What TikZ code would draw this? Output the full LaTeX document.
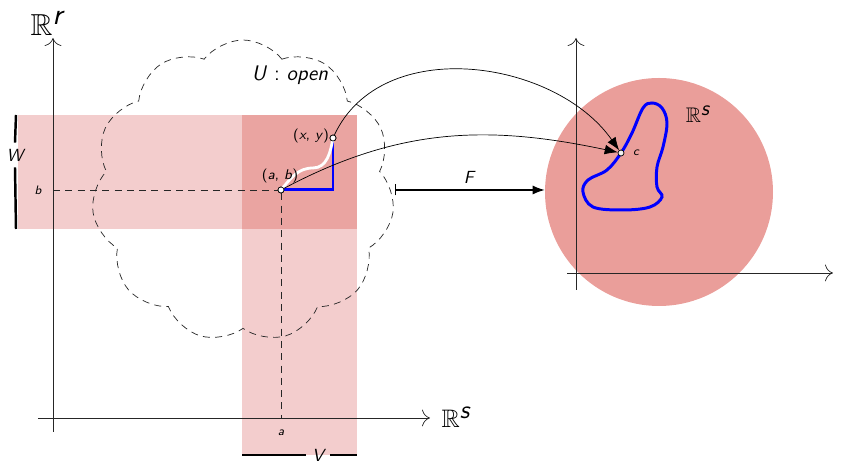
\documentclass[tikz,border=0pt]{standalone}
\usepackage{amssymb}
\usetikzlibrary{arrows.meta,shapes.symbols}
\definecolor{BandPink}{RGB}{243,205,205}
\definecolor{MeetPink}{RGB}{234,164,161}
\definecolor{DiskPink}{RGB}{234,158,154}

\begin{document}
\sffamily
\begin{tikzpicture}[
    axis/.style={-{To[length=1.6mm]}, draw=black!85},
    guide/.style={dash pattern=on 4pt off 3pt, draw=black!85},
    pt/.style={circle, draw, fill=white, inner sep=0pt, minimum size=1.2mm},
    bar/.style={line width=1.4pt},
    loopline/.style={blue, line width=1.7pt},
    map/.style={-{Latex[length=2.6mm]}, draw=black},
    funarrow/.style={{Bar[width=2.2mm]}-{Latex[length=2.4mm]}, semithick}
  ]
    \useasboundingbox (0,0) rectangle (16.96,9.24);

    % the two strips and where they meet
    \fill[BandPink] (0.36,4.66) rectangle (7.14,6.94);
    \fill[BandPink] (4.84,0.14) rectangle (7.14,6.94);
    \fill[MeetPink] (4.84,4.66) rectangle (7.14,6.94);

    \node[cloud, cloud puffs=11, cloud puff arc=105, draw=black!85, dash pattern=on 4pt off 3pt,
          minimum width=6.06cm, minimum height=6.04cm] (U) at (4.86,5.42) {};
    \node[font=\large] (Ulabel) at (5.8,7.74) {\textit{U} : \textit{open}};

    % left axes
    \node[font=\LARGE] (Rr) at (0.94,8.78) {$\mathbb{R}^{\textit{r}}$};
    \node[font=\Large] (Rs) at (9.12,0.9) {$\mathbb{R}^{\textit{s}}$};
    \draw[axis] (1.06,0.6) -- (1.06,8.48);
    \draw[axis] (0.76,0.88) -- (8.6,0.88);

    \node[pt] (ab) at (5.62,5.44) {};
    \node[pt] (xy) at (6.66,6.48) {};
    \node[font=\scriptsize\itshape] (b) at (0.76,5.44) {b};
    \node[font=\scriptsize\itshape] (a) at (5.62,0.58) {a};
    \draw[guide] (1.06,5.44) -- (ab);
    \draw[guide] (ab) -- (5.62,0.88);

    \node[font=\itshape] (W) at (0.3,6.14) {W};
    \draw[bar] (0.32,6.94) -- (W.north);
    \draw[bar] (W.south) -- (0.32,4.66);
    \node[font=\itshape] (V) at (6.36,0.14) {V};
    \draw[bar] (4.84,0.14) -- (V.west);
    \draw[bar] (V.east) -- (7.14,0.14);

    \draw[loopline] (ab.center) -| (xy.center);
    \draw[white, line width=1.6pt] (ab.center) to[out=50,in=180] (6.26,5.88) to[out=0,in=-100] (xy.center);
    \node[pt] at (ab) {};
    \node[pt] at (xy) {};
    \node[font=\footnotesize] (ablabel) at (5.6,5.72) {(\textit{a}, \textit{b})};
    \node[font=\footnotesize] (xylabel) at (6.22,6.52) {(\textit{x}, \textit{y})};

    % right side
    \node[circle, fill=DiskPink, minimum size=4.56cm, inner sep=0pt] (disk) at (13.18,5.4) {};
    \draw[axis] (11.52,3.44) -- (11.52,8.48);
    \draw[axis] (11.34,3.78) -- (16.66,3.78);
    \node[font=\large] (Rsdisk) at (13.96,6.96) {$\mathbb{R}^{\textit{s}}$};
    \draw[loopline] plot[smooth cycle, tension=0.6] coordinates
      {(12.42,6.18) (12.64,6.58) (12.86,7.08) (13.04,7.18) (13.24,7.08) (13.34,6.78)
       (13.26,6.3) (13.14,5.9) (13.14,5.5) (13.24,5.3) (13.0,5.1) (12.46,5.04)
       (11.86,5.1) (11.66,5.4) (11.76,5.64) (12.14,5.84)};
    \node[pt, fill=black!5] (c) at (12.42,6.18) {};
    \node[font=\scriptsize\itshape] (clabel) at (12.72,6.18) {c};

    \coordinate (Fstart) at (7.9,5.44);
    \draw[map] (xy) to[out=65,in=125] (c);
    \draw[map] (ab) to[out=28,in=168] (c);
    \draw[funarrow] (Fstart) -- node[above] {\textit{F}} (Fstart -| disk.west);
  \end{tikzpicture}
\end{document}
